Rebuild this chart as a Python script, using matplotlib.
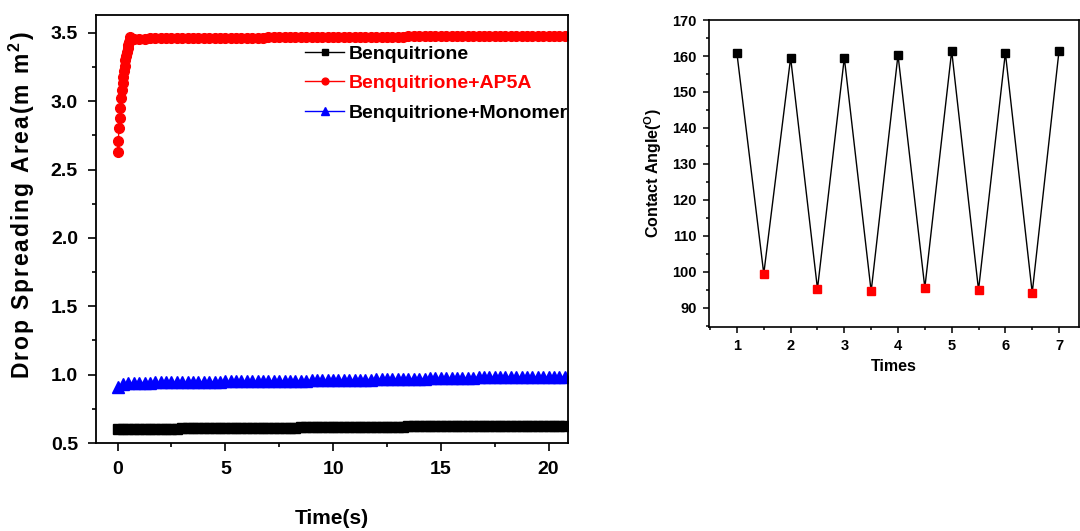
import matplotlib
matplotlib.use("Agg")
import matplotlib.pyplot as plt
from matplotlib.ticker import MultipleLocator

plt.rcParams['font.family'] = ['Liberation Sans', 'DejaVu Sans']
plt.rcParams['mathtext.fontset'] = 'custom'
plt.rcParams['mathtext.rm'] = 'Liberation Sans:bold'
plt.rcParams['mathtext.it'] = 'Liberation Sans:bold'
plt.rcParams['mathtext.bf'] = 'Liberation Sans:bold'

# ---------------- data: drop spreading area ----------------
time_s = [0.0, 0.25, 0.5, 0.75, 1.0, 1.25, 1.5, 1.75, 2.0, 2.25, 2.5, 2.75,
          3.0, 3.25, 3.5, 3.75, 4.0, 4.25, 4.5, 4.75, 5.0, 5.25, 5.5, 5.75,
          6.0, 6.25, 6.5, 6.75, 7.0, 7.25, 7.5, 7.75, 8.0, 8.25, 8.5, 8.75,
          9.0, 9.25, 9.5, 9.75, 10.0, 10.25, 10.5, 10.75, 11.0, 11.25, 11.5, 11.75,
          12.0, 12.25, 12.5, 12.75, 13.0, 13.25, 13.5, 13.75, 14.0, 14.25, 14.5, 14.75,
          15.0, 15.25, 15.5, 15.75, 16.0, 16.25, 16.5, 16.75, 17.0, 17.25, 17.5, 17.75,
          18.0, 18.25, 18.5, 18.75, 19.0, 19.25, 19.5, 19.75, 20.0, 20.25, 20.5, 20.75]

benq = [0.605, 0.605, 0.605, 0.605, 0.605, 0.605, 0.605, 0.605, 0.605, 0.605, 0.605, 0.605,
        0.61, 0.61, 0.61, 0.61, 0.61, 0.61, 0.61, 0.61, 0.61, 0.61, 0.61, 0.61,
        0.61, 0.61, 0.61, 0.61, 0.61, 0.61, 0.61, 0.61, 0.61, 0.61, 0.615, 0.615,
        0.615, 0.615, 0.615, 0.615, 0.615, 0.615, 0.615, 0.615, 0.615, 0.615, 0.615, 0.615,
        0.615, 0.615, 0.615, 0.615, 0.615, 0.615, 0.622, 0.622, 0.622, 0.622, 0.622, 0.622,
        0.622, 0.622, 0.622, 0.622, 0.622, 0.622, 0.622, 0.622, 0.622, 0.622, 0.622, 0.622,
        0.622, 0.622, 0.622, 0.622, 0.622, 0.622, 0.622, 0.622, 0.622, 0.622, 0.622, 0.622]

benq_mono = [0.91, 0.935, 0.94, 0.94, 0.941, 0.942, 0.942, 0.943, 0.944, 0.944, 0.945, 0.945,
             0.946, 0.946, 0.947, 0.947, 0.948, 0.948, 0.949, 0.949, 0.950, 0.950, 0.951, 0.951,
             0.952, 0.952, 0.953, 0.953, 0.954, 0.954, 0.955, 0.955, 0.956, 0.956, 0.957, 0.957,
             0.958, 0.959, 0.959, 0.960, 0.961, 0.961, 0.962, 0.962, 0.963, 0.963, 0.964, 0.964,
             0.965, 0.966, 0.966, 0.967, 0.968, 0.968, 0.969, 0.970, 0.970, 0.971, 0.972, 0.972,
             0.973, 0.974, 0.975, 0.976, 0.977, 0.978, 0.979, 0.980, 0.981, 0.982, 0.983, 0.984,
             0.985, 0.985, 0.985, 0.984, 0.984, 0.984, 0.984, 0.983, 0.983, 0.983, 0.983, 0.983]

# AP5A: fast rise in the first 0.6 s, then the plateau on the common time grid from 0.75 s
ap5a_rise_t = [0.0, 0.033, 0.067, 0.1, 0.133, 0.167, 0.2, 0.233, 0.267, 0.3,
               0.333, 0.367, 0.4, 0.433, 0.467, 0.5, 0.533, 0.567, 0.6]
ap5a_rise = [2.63, 2.71, 2.80, 2.88, 2.95, 3.02, 3.08, 3.13, 3.18, 3.22,
             3.26, 3.30, 3.33, 3.36, 3.39, 3.41, 3.43, 3.45, 3.47]
ap5a_plateau = [3.455, 3.455, 3.455, 3.46, 3.46, 3.46, 3.46, 3.46, 3.46,
                3.462, 3.462, 3.462, 3.462, 3.463, 3.463, 3.463, 3.463, 3.464, 3.464, 3.464, 3.464,
                3.465, 3.465, 3.465, 3.465, 3.466, 3.466, 3.466, 3.466, 3.467, 3.467, 3.467, 3.467,
                3.468, 3.468, 3.468, 3.468, 3.469, 3.469, 3.469, 3.469, 3.470, 3.470, 3.470, 3.470,
                3.471, 3.471, 3.471, 3.471, 3.472, 3.472, 3.474, 3.474, 3.475, 3.475, 3.475, 3.475,
                3.476, 3.476, 3.476, 3.476, 3.477, 3.477, 3.477, 3.477, 3.477, 3.477, 3.477, 3.477,
                3.478, 3.478, 3.478, 3.478, 3.478, 3.478, 3.478, 3.478, 3.478, 3.478, 3.478, 3.478]

# ---------------- data: contact angle cycles ----------------
cycles = [1, 1.5, 2, 2.5, 3, 3.5, 4, 4.5, 5, 5.5, 6, 6.5, 7]
angles = [160.7, 99.5, 159.5, 95.3, 159.5, 94.6, 160.3, 95.6, 161.4, 95.0, 160.9, 94.2, 161.5]

fig = plt.figure(figsize=(10.8, 5.31), dpi=100)

# ---------------- left panel ----------------
ax = fig.add_axes([0.0889, 0.1657, 0.4370, 0.8061])
ax.plot(time_s, benq, color="black", marker="s", ms=7, lw=1, label="Benquitrione")
ax.plot(ap5a_rise_t + time_s[3:], ap5a_rise + ap5a_plateau, color="red", marker="o",
        ms=7, lw=1, label="Benquitrione+AP5A")
ax.plot(time_s, benq_mono, color="blue", marker="^", ms=8, lw=1, label="Benquitrione+Monomer")

ax.set_xlim(-1, 20.9)
ax.set_ylim(0.5, 3.63)
ax.xaxis.set_major_locator(MultipleLocator(5))
ax.xaxis.set_minor_locator(MultipleLocator(2.5))
ax.yaxis.set_major_locator(MultipleLocator(0.5))
ax.yaxis.set_minor_locator(MultipleLocator(0.25))
ax.tick_params(which="both", direction="out", top=False, right=False, width=1.2)
ax.tick_params(which="major", length=6, labelsize=14, pad=7)
ax.tick_params(which="minor", length=3)
for lab in ax.get_xticklabels() + ax.get_yticklabels():
    lab.set_fontweight("bold")
for sp in ax.spines.values():
    sp.set_linewidth(1.3)

# letter-spaced axis title, as in the original figure
ylabel = "\u200a".join("Drop Spreading Area(m m") + "\u200a$^{2}$\u200a)"
ax.set_ylabel(ylabel, fontsize=16.5, fontweight="bold")
ax.yaxis.set_label_coords(-0.125, 0.555)
ax.set_xlabel("Time(s)", fontsize=15, fontweight="bold", labelpad=22)

leg = ax.legend(loc="upper left", bbox_to_anchor=(0.443, 0.93), frameon=False,
                fontsize=14, handlelength=2.0, handletextpad=0.25, labelspacing=0.62,
                borderaxespad=0, borderpad=0, markerscale=0.7)
for txt, col in zip(leg.get_texts(), ["black", "red", "black"]):
    txt.set_color(col)
    txt.set_fontweight("bold")

# ---------------- right panel ----------------
ax2 = fig.add_axes([0.6565, 0.3842, 0.3425, 0.5781])
ax2.plot(cycles, angles, color="black", lw=1)
ax2.plot(cycles[0::2], angles[0::2], ls="none", marker="s", ms=5.5, color="black")
ax2.plot(cycles[1::2], angles[1::2], ls="none", marker="s", ms=5.5, color="red")

ax2.set_xlim(0.48, 7.37)
ax2.set_ylim(84.7, 170)
ax2.xaxis.set_major_locator(MultipleLocator(1))
ax2.xaxis.set_minor_locator(MultipleLocator(0.5))
ax2.yaxis.set_major_locator(MultipleLocator(10))
ax2.yaxis.set_minor_locator(MultipleLocator(5))
ax2.tick_params(which="both", direction="out", top=False, right=False, width=1.1)
ax2.tick_params(which="major", length=4, labelsize=10.5, pad=5)
ax2.tick_params(which="minor", length=2.5)
for lab in ax2.get_xticklabels() + ax2.get_yticklabels():
    lab.set_fontweight("bold")
for sp in ax2.spines.values():
    sp.set_linewidth(1.2)
ax2.set_ylabel(r"Contact Angle($^\mathregular{O}$)", fontsize=11.5, fontweight="bold", labelpad=6)
ax2.set_xlabel("Times", fontsize=11.5, fontweight="bold", labelpad=4)

fig.savefig("out.png", dpi=100)
